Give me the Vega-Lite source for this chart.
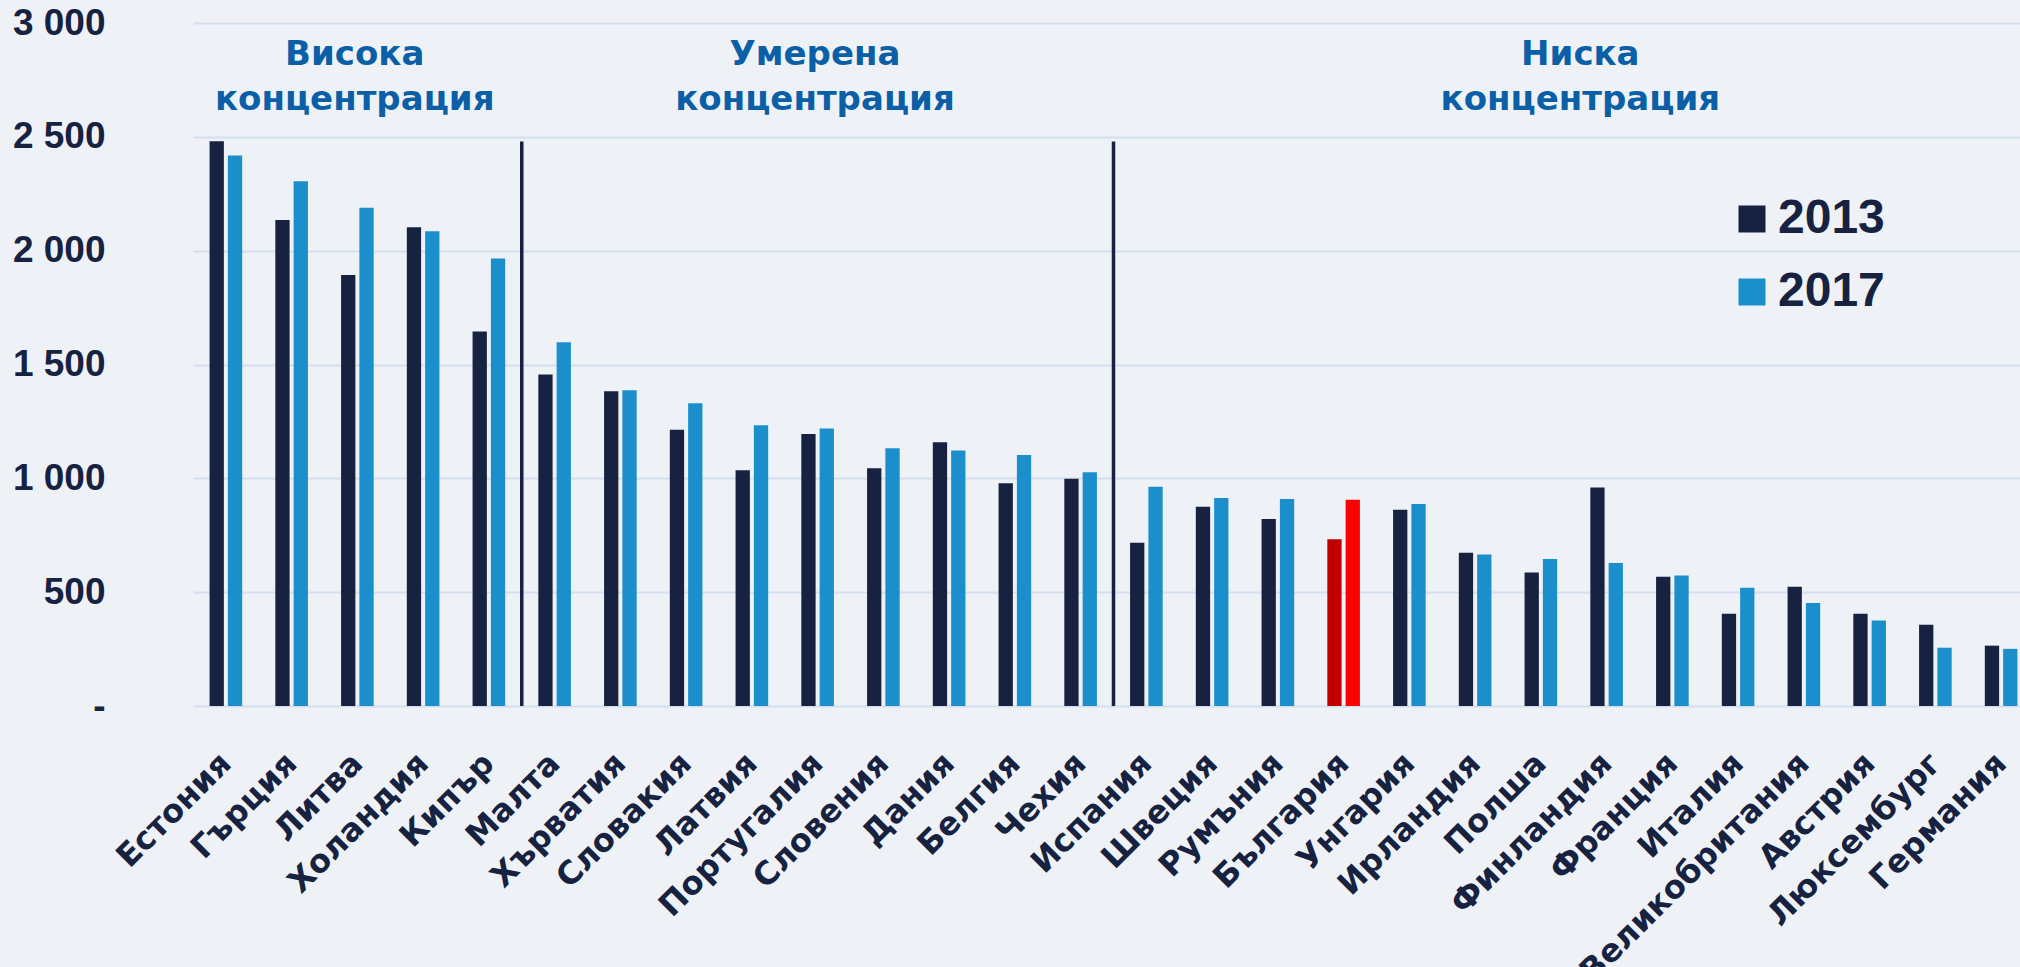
{
  "$schema": "https://vega.github.io/schema/vega-lite/v6.json",
  "width": 1827,
  "height": 683,
  "autosize": {"type": "none"},
  "padding": {"left": 193, "top": 23, "right": 0, "bottom": 261},
  "background": "#EEF2F7",
  "config": {"view": {"stroke": null}},
  "datasets": {
    "bars": [
      {"country": "Естония", "year": "2013", "value": 2481}, {"country": "Естония", "year": "2017", "value": 2418},
      {"country": "Гърция", "year": "2013", "value": 2135}, {"country": "Гърция", "year": "2017", "value": 2305},
      {"country": "Литва", "year": "2013", "value": 1893}, {"country": "Литва", "year": "2017", "value": 2188},
      {"country": "Холандия", "year": "2013", "value": 2103}, {"country": "Холандия", "year": "2017", "value": 2085},
      {"country": "Кипър", "year": "2013", "value": 1645}, {"country": "Кипър", "year": "2017", "value": 1966},
      {"country": "Малта", "year": "2013", "value": 1456}, {"country": "Малта", "year": "2017", "value": 1598},
      {"country": "Хърватия", "year": "2013", "value": 1383}, {"country": "Хърватия", "year": "2017", "value": 1387},
      {"country": "Словакия", "year": "2013", "value": 1213}, {"country": "Словакия", "year": "2017", "value": 1330},
      {"country": "Латвия", "year": "2013", "value": 1036}, {"country": "Латвия", "year": "2017", "value": 1233},
      {"country": "Португалия", "year": "2013", "value": 1195}, {"country": "Португалия", "year": "2017", "value": 1219},
      {"country": "Словения", "year": "2013", "value": 1044}, {"country": "Словения", "year": "2017", "value": 1132},
      {"country": "Дания", "year": "2013", "value": 1159}, {"country": "Дания", "year": "2017", "value": 1122},
      {"country": "Белгия", "year": "2013", "value": 978}, {"country": "Белгия", "year": "2017", "value": 1102},
      {"country": "Чехия", "year": "2013", "value": 998}, {"country": "Чехия", "year": "2017", "value": 1027},
      {"country": "Испания", "year": "2013", "value": 717}, {"country": "Испания", "year": "2017", "value": 963},
      {"country": "Швеция", "year": "2013", "value": 875}, {"country": "Швеция", "year": "2017", "value": 914},
      {"country": "Румъния", "year": "2013", "value": 821}, {"country": "Румъния", "year": "2017", "value": 909},
      {"country": "България", "year": "2013", "value": 732}, {"country": "България", "year": "2017", "value": 906},
      {"country": "Унгария", "year": "2013", "value": 862}, {"country": "Унгария", "year": "2017", "value": 887},
      {"country": "Ирландия", "year": "2013", "value": 673}, {"country": "Ирландия", "year": "2017", "value": 665},
      {"country": "Полша", "year": "2013", "value": 586}, {"country": "Полша", "year": "2017", "value": 646},
      {"country": "Финландия", "year": "2013", "value": 960}, {"country": "Финландия", "year": "2017", "value": 628},
      {"country": "Франция", "year": "2013", "value": 568}, {"country": "Франция", "year": "2017", "value": 573},
      {"country": "Италия", "year": "2013", "value": 405}, {"country": "Италия", "year": "2017", "value": 519},
      {"country": "Великобритания", "year": "2013", "value": 524}, {"country": "Великобритания", "year": "2017", "value": 452},
      {"country": "Австрия", "year": "2013", "value": 405}, {"country": "Австрия", "year": "2017", "value": 376},
      {"country": "Люксембург", "year": "2013", "value": 357}, {"country": "Люксембург", "year": "2017", "value": 256},
      {"country": "Германия", "year": "2013", "value": 265}, {"country": "Германия", "year": "2017", "value": 251}
    ],
    "separators": [{"country": "Кипър"}, {"country": "Чехия"}],
    "groups": [
      {"anchor": "Литва", "label": "Висока\nконцентрация"},
      {"anchor": "Португалия", "label": "Умерена\nконцентрация"}
    ],
    "groups2": [
      {"anchor": "Финландия", "label": "Ниска\nконцентрация"}
    ]
  },
  "layer": [
    {
      "data": {"name": "bars"},
      "mark": {"type": "bar"},
      "encoding": {
        "x": {
          "field": "country", "type": "nominal", "sort": null, "title": null,
          "scale": {
            "domain": ["Естония", "Гърция", "Литва", "Холандия", "Кипър", "Малта", "Хърватия", "Словакия", "Латвия", "Португалия", "Словения", "Дания", "Белгия", "Чехия", "Испания", "Швеция", "Румъния", "България", "Унгария", "Ирландия", "Полша", "Финландия", "Франция", "Италия", "Великобритания", "Австрия", "Люксембург", "Германия"],
            "range": [0, 1841], "paddingInner": 0, "paddingOuter": 0
          },
          "axis": {
            "title": null, "labelAngle": -45, "labelAlign": "right", "labelBaseline": "middle",
            "labelPadding": 52, "labelFont": "DejaVu Sans", "labelFontWeight": "bold", "labelFontSize": 32,
            "labelColor": "#16223F", "labelLimit": 600, "labelOverlap": false, "ticks": false, "domain": false, "grid": false
          }
        },
        "xOffset": {"field": "year", "type": "nominal", "scale": {"paddingInner": 0.22, "paddingOuter": 0.905}},
        "y": {
          "field": "value", "type": "quantitative", "title": null,
          "scale": {"domain": [0, 3000], "nice": false},
          "axis": {
            "title": null, "values": [0, 500, 1000, 1500, 2000, 2500, 3000],
            "labelExpr": "datum.value === 0 ? '-\u00a0\u00a0' : replace(format(datum.value, ','), ',', ' ')",
            "labelFont": "Liberation Sans", "labelFontWeight": "bold", "labelFontSize": 37, "labelColor": "#16223F",
            "labelPadding": 88, "ticks": false, "domain": false, "grid": true, "gridColor": "#D3DEEF", "gridWidth": 2
          }
        },
        "color": {
          "condition": [
            {"test": "datum.country === 'България' && datum.year === '2013'", "value": "#C00000"},
            {"test": "datum.country === 'България' && datum.year === '2017'", "value": "#FF0000"}
          ],
          "field": "year", "type": "nominal",
          "scale": {"domain": ["2013", "2017"], "range": ["#16223F", "#1A8FCC"]},
          "legend": {
            "title": null, "orient": "none", "legendX": 1535, "legendY": 172, "padding": 0,
            "symbolType": "square", "symbolSize": 729, "symbolStrokeWidth": 0,
            "labelFont": "Liberation Sans", "labelFontWeight": "bold", "labelFontSize": 48, "labelColor": "#16223F",
            "labelOffset": 2, "rowPadding": 25
          }
        }
      }
    },
    {
      "data": {"name": "separators"},
      "mark": {"type": "rule", "color": "#16223F", "strokeWidth": 3.5},
      "encoding": {
        "x": {"field": "country", "type": "nominal", "bandPosition": 1, "title": null},
        "y": {"datum": 2480, "type": "quantitative", "title": null},
        "y2": {"datum": 0}
      }
    },
    {
      "data": {"name": "groups"},
      "mark": {"type": "text", "align": "center", "baseline": "alphabetic", "lineBreak": "\n", "lineHeight": 45,
               "font": "DejaVu Sans", "fontWeight": "bold", "fontSize": 34, "color": "#0A5FA6"},
      "encoding": {
        "x": {"field": "anchor", "type": "nominal", "bandPosition": 0.46, "title": null},
        "y": {"datum": 2815, "type": "quantitative", "title": null},
        "text": {"field": "label"}
      }
    },
    {
      "data": {"name": "groups2"},
      "mark": {"type": "text", "align": "center", "baseline": "alphabetic", "lineBreak": "\n", "lineHeight": 45,
               "font": "DejaVu Sans", "fontWeight": "bold", "fontSize": 34, "color": "#0A5FA6"},
      "encoding": {
        "x": {"field": "anchor", "type": "nominal", "bandPosition": 0.1, "title": null},
        "y": {"datum": 2815, "type": "quantitative", "title": null},
        "text": {"field": "label"}
      }
    }
  ]
}
